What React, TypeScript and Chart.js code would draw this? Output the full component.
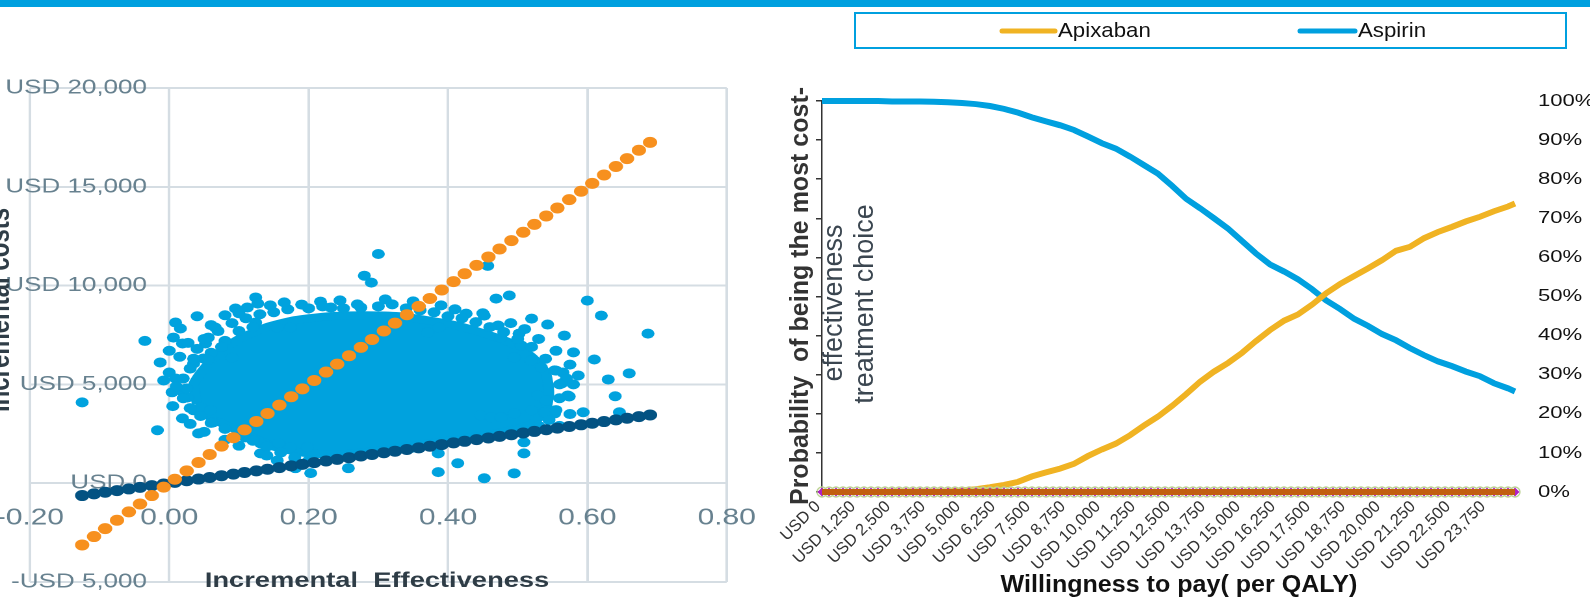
import React, { useEffect, useRef } from "react";
import { Chart, registerables } from "chart.js";
Chart.register(...registerables);

const FONT = '"Liberation Sans", Arial, sans-serif';

// ---------- Left panel: cost-effectiveness plane ----------
const CE_X_TICKS = [-0.2, 0, 0.2, 0.4, 0.6, 0.8];
const CE_Y_TICKS = [-5000, 0, 5000, 10000, 15000, 20000];

// effectiveness values of the two threshold lines
const THRESH_X = [-0.125, -0.108, -0.092, -0.075, -0.058, -0.042, -0.025, -0.008, 0.008, 0.025,
  0.042, 0.058, 0.075, 0.092, 0.108, 0.125, 0.141, 0.158, 0.175, 0.191,
  0.208, 0.225, 0.241, 0.258, 0.275, 0.291, 0.308, 0.324, 0.341, 0.358,
  0.374, 0.391, 0.408, 0.424, 0.441, 0.458, 0.474, 0.491, 0.508, 0.524,
  0.541, 0.557, 0.574, 0.591, 0.607, 0.624, 0.641, 0.657, 0.674, 0.690];
const THRESH_HIGH = [-3125, -2700, -2300, -1875, -1450, -1050, -625, -200, 200, 625,
  1050, 1450, 1875, 2300, 2700, 3125, 3525, 3950, 4375, 4775,
  5200, 5625, 6025, 6450, 6875, 7275, 7700, 8100, 8525, 8950,
  9350, 9775, 10200, 10600, 11025, 11450, 11850, 12275, 12700, 13100,
  13525, 13925, 14350, 14775, 15175, 15600, 16025, 16425, 16850, 17250];
const THRESH_LOW = [-625, -540, -460, -375, -290, -210, -125, -40, 40, 125,
  210, 290, 375, 460, 540, 625, 705, 790, 875, 955,
  1040, 1125, 1205, 1290, 1375, 1455, 1540, 1620, 1705, 1790,
  1870, 1955, 2040, 2120, 2205, 2290, 2370, 2455, 2540, 2620,
  2705, 2785, 2870, 2955, 3035, 3120, 3205, 3285, 3370, 3450];

// dense core of the simulation cloud (outline)
const CORE_X = [0.04, 0.035, 0.05, 0.075, 0.10, 0.14, 0.18, 0.23, 0.28, 0.33, 0.37, 0.41, 0.45, 0.49,
  0.52, 0.54, 0.545, 0.54, 0.52, 0.48, 0.42, 0.36, 0.30, 0.24, 0.19, 0.15, 0.12, 0.09, 0.06, 0.04];
const CORE_Y = [4000, 5000, 5800, 6700, 7300, 7900, 8250, 8450, 8500, 8450, 8250, 8000, 7600, 7100,
  6400, 5600, 4600, 3700, 3000, 2600, 2250, 1950, 1650, 1450, 1550, 1850, 2300, 2800, 3300, 4000];

// individual simulations (incremental effectiveness, incremental cost)
const SIM_X = [
  -0.125, -0.035, -0.017, -0.013, -0.008, 0.006, 0.009, 0.016, 0.019, 0.027,
  0.04, 0.056, 0.066, 0.0, 0.009, 0.004, 0.016, 0.019, 0.026, 0.042,
  0.035, 0.045, 0.059, 0.063, 0.035, 0.052, 0.049, 0.109, 0.131, 0.131,
  0.157, 0.181, 0.203, 0.174, 0.198, 0.124, 0.127, 0.095, 0.112, 0.124,
  0.155, 0.174, 0.19, 0.217, 0.232, 0.275, 0.30, 0.28, 0.29, 0.457,
  0.469, 0.488, 0.426, 0.452, 0.371, 0.387, 0.472, 0.476, 0.502, 0.505,
  0.495, 0.519, 0.52, 0.543, 0.534, 0.553, 0.563, 0.572, 0.529, 0.541,
  0.52, 0.538, 0.553, 0.509, 0.509, 0.495, 0.452, 0.414, 0.386, 0.386,
  0.447, 0.462, 0.476, 0.495, 0.257, 0.60, 0.62, 0.687, 0.66, 0.63,
  0.64, 0.61, 0.646, 0.594, 0.58, 0.567, 0.587, 0.574, 0.565, 0.57,
  0.54,
  0.05, 0.07, 0.09, 0.11, 0.13, 0.15, 0.17, 0.20, 0.22, 0.25,
  0.27, 0.30, 0.32, 0.34, 0.36, 0.38, 0.40, 0.42, 0.44, 0.46,
  0.48, 0.50, 0.52, 0.54, 0.555, 0.56, 0.56, 0.555, 0.545, 0.53,
  0.50, 0.47, 0.44, 0.41, 0.38, 0.35, 0.32, 0.29, 0.26, 0.23,
  0.20, 0.18, 0.16, 0.14, 0.12, 0.10, 0.08, 0.06, 0.045, 0.03,
  0.02, 0.025, 0.02, 0.03, 0.035, 0.04,
  0.06, 0.08, 0.10, 0.145, 0.165, 0.245, 0.31, 0.35, 0.39, 0.41,
  0.45, 0.49, 0.51, 0.53, 0.555, 0.575, 0.58, 0.575, 0.56, 0.01,
  0.015, 0.0, 0.005, 0.03, 0.05, 0.08, 0.10, 0.14, 0.155,
  0.06, 0.08, 0.10, 0.075, 0.055, 0.09, 0.12];
const SIM_Y = [
  4090, 7200, 2680, 6110, 5200, 7370, 8130, 7830, 7070, 7100,
  8450, 7370, 7880, 5600, 5300, 4600, 4700, 3280, 4340, 2520,
  3690, 3840, 3690, 3080, 6060, 7070, 6310, 2320, 2020, 1510,
  2020, 760, 510, 1820, 1820, 9400, 9090, 8840, 8890, 8130,
  7880, 7880, 9040, 9190, 8890, 8890, 11600, 10500, 10150, 11000,
  9340, 9500, 8580, 8480, 7630, 7880, 7980, 7370, 7570, 6970,
  6360, 6210, 8330, 8030, 5860, 5710, 5050, 4440, 4440, 4190,
  3690, 3590, 3530, 2070, 1510, 500, 250, 1010, 560, 1510,
  3430, 3330, 3330, 3530, 760, 9240, 8480, 7570, 5560, 5250,
  4400, 6260, 3590, 3590, 6620, 7470, 5450, 4390, 5600, 5300,
  3600,
  7300, 7700, 8100, 8350, 8550, 8650, 8800, 8850, 8950, 8850,
  9050, 8950, 9050, 8850, 8750, 8650, 8450, 8350, 8150, 7900,
  7650, 7300, 6900, 6300, 5700, 5000, 4300, 3700, 3200, 2900,
  2700, 2450, 2300, 2100, 1950, 1800, 1650, 1500, 1350, 1250,
  1150, 1300, 1550, 1850, 2150, 2450, 2750, 3050, 3400, 3800,
  4300, 4800, 5300, 5800, 6300, 6800,
  8000, 8500, 8600, 9000, 9150, 9250, 9300, 9200, 9000, 8800,
  8600, 8100, 7800, 7300, 6700, 6000, 5000, 3500, 2900, 4900,
  6400, 6700, 3900, 3000, 2600, 2200, 1900, 1400, 1150,
  6600, 7200, 7700, 6900, 6250, 6350, 7900];

// ---------- Right panel: acceptability curve ----------
const WTP = [0, 500, 1000, 1500, 2000, 2500, 3000, 3500, 4000, 4500,
  5000, 5500, 6000, 6500, 7000, 7500, 8000, 8500, 9000, 9500,
  10000, 10500, 11000, 11500, 12000, 12500, 13000, 13500, 14000, 14500,
  15000, 15500, 16000, 16500, 17000, 17500, 18000, 18500, 19000, 19500,
  20000, 20500, 21000, 21500, 22000, 22500, 23000, 23500, 24000, 24500, 24750];
const APIXABAN = [0, 0, 0, 0, 0, 0.1, 0.1, 0.1, 0.1, 0.2,
  0.4, 0.7, 1.2, 1.8, 2.6, 4.0, 5.0, 6.0, 7.2, 9.2,
  10.9, 12.4, 14.5, 17.0, 19.3, 22.0, 25.0, 28.2, 30.8, 33.0,
  35.6, 38.6, 41.4, 43.8, 45.4, 47.9, 50.8, 53.2, 55.2, 57.2,
  59.3, 61.7, 62.7, 64.9, 66.5, 67.8, 69.2, 70.4, 71.8, 73.0, 73.8];
const ASPIRIN = [100, 100, 100, 100, 100, 99.9, 99.9, 99.9, 99.8, 99.7,
  99.5, 99.2, 98.7, 98.0, 97.0, 95.8, 94.8, 93.8, 92.6, 90.9,
  89.2, 87.8, 85.8, 83.6, 81.4, 78.3, 75.0, 72.6, 70.0, 67.4,
  64.2, 61.0, 58.2, 56.4, 54.4, 51.9, 49.0, 46.8, 44.3, 42.5,
  40.4, 38.8, 36.8, 35.0, 33.4, 32.2, 30.8, 29.6, 27.8, 26.5, 25.7];
// finer grid used by the three flat (0 %) series along the bottom
const WTP_FINE = [0, 250, 500, 750, 1000, 1250, 1500, 1750, 2000, 2250,
  2500, 2750, 3000, 3250, 3500, 3750, 4000, 4250, 4500, 4750,
  5000, 5250, 5500, 5750, 6000, 6250, 6500, 6750, 7000, 7250,
  7500, 7750, 8000, 8250, 8500, 8750, 9000, 9250, 9500, 9750,
  10000, 10250, 10500, 10750, 11000, 11250, 11500, 11750, 12000, 12250,
  12500, 12750, 13000, 13250, 13500, 13750, 14000, 14250, 14500, 14750,
  15000, 15250, 15500, 15750, 16000, 16250, 16500, 16750, 17000, 17250,
  17500, 17750, 18000, 18250, 18500, 18750, 19000, 19250, 19500, 19750,
  20000, 20250, 20500, 20750, 21000, 21250, 21500, 21750, 22000, 22250,
  22500, 22750, 23000, 23250, 23500, 23750, 24000, 24250, 24500, 24750];
const OTHER_A = [0, 0, 0, 0, 0, 0, 0, 0, 0, 0, 0, 0, 0, 0, 0, 0, 0, 0, 0, 0,
  0, 0, 0, 0, 0, 0, 0, 0, 0, 0, 0, 0, 0, 0, 0, 0, 0, 0, 0, 0,
  0, 0, 0, 0, 0, 0, 0, 0, 0, 0, 0, 0, 0, 0, 0, 0, 0, 0, 0, 0,
  0, 0, 0, 0, 0, 0, 0, 0, 0, 0, 0, 0, 0, 0, 0, 0, 0, 0, 0, 0,
  0, 0, 0, 0, 0, 0, 0, 0, 0, 0, 0, 0, 0, 0, 0, 0, 0, 0, 0, 0];
const OTHER_B = [0, 0, 0, 0, 0, 0, 0, 0, 0, 0, 0, 0, 0, 0, 0, 0, 0, 0, 0, 0,
  0, 0, 0, 0, 0, 0, 0, 0, 0, 0, 0, 0, 0, 0, 0, 0, 0, 0, 0, 0,
  0, 0, 0, 0, 0, 0, 0, 0, 0, 0, 0, 0, 0, 0, 0, 0, 0, 0, 0, 0,
  0, 0, 0, 0, 0, 0, 0, 0, 0, 0, 0, 0, 0, 0, 0, 0, 0, 0, 0, 0,
  0, 0, 0, 0, 0, 0, 0, 0, 0, 0, 0, 0, 0, 0, 0, 0, 0, 0, 0, 0];
const OTHER_C = [0, 0, 0, 0, 0, 0, 0, 0, 0, 0, 0, 0, 0, 0, 0, 0, 0, 0, 0, 0,
  0, 0, 0, 0, 0, 0, 0, 0, 0, 0, 0, 0, 0, 0, 0, 0, 0, 0, 0, 0,
  0, 0, 0, 0, 0, 0, 0, 0, 0, 0, 0, 0, 0, 0, 0, 0, 0, 0, 0, 0,
  0, 0, 0, 0, 0, 0, 0, 0, 0, 0, 0, 0, 0, 0, 0, 0, 0, 0, 0, 0,
  0, 0, 0, 0, 0, 0, 0, 0, 0, 0, 0, 0, 0, 0, 0, 0, 0, 0, 0, 0];
const WTP_LABELS = [0, 1250, 2500, 3750, 5000, 6250, 7500, 8750, 10000, 11250,
  12500, 13750, 15000, 16250, 17500, 18750, 20000, 21250, 22500, 23750];
const PCT_TICKS = [0, 10, 20, 30, 40, 50, 60, 70, 80, 90, 100];

type TextItem = {
  text: string; x: number; y: number; font: string; color: string;
  rot?: number; sx?: number; align?: CanvasTextAlign; baseline?: CanvasTextBaseline;
};
function drawTexts(ctx: CanvasRenderingContext2D, items: TextItem[]) {
  for (const t of items) {
    ctx.save();
    ctx.translate(t.x, t.y);
    if (t.sx) ctx.scale(t.sx, 1);
    if (t.rot) ctx.rotate(t.rot);
    ctx.font = t.font;
    ctx.fillStyle = t.color;
    ctx.textAlign = t.align || "center";
    ctx.textBaseline = t.baseline || "alphabetic";
    ctx.fillText(t.text, 0, 0);
    ctx.restore();
  }
}

const pairs = (xs: number[], ys: number[]) => xs.map((x, i) => ({ x, y: ys[i] }));
const usd = (v: number) => (v < 0 ? "-USD " : "USD ") + Math.abs(v).toLocaleString("en-US");

const CLOUD = "#00a2de";
const GRID = "#d5dde3";
const TICK_COL = "#67818f";

function leftConfig(): any {
  return {
    type: "scatter",
    data: {
      datasets: [
        { label: "WTP high", data: pairs(THRESH_X, THRESH_HIGH), backgroundColor: "#f7901e", borderWidth: 0, pointRadius: 5.5, order: 0 },
        { label: "WTP low", data: pairs(THRESH_X, THRESH_LOW), backgroundColor: "#035282", borderWidth: 0, pointRadius: 5.5, order: 1 },
        { label: "Simulations", data: pairs(SIM_X, SIM_Y), backgroundColor: CLOUD, borderWidth: 0, pointRadius: 5, order: 2 },
        { type: "line", label: "Simulation core", data: pairs(CORE_X, CORE_Y), backgroundColor: CLOUD, borderColor: CLOUD,
          borderWidth: 8, borderJoinStyle: "round", pointRadius: 0, fill: "shape", tension: 0.2, order: 3 },
      ],
    },
    options: {
      animation: false, responsive: false, devicePixelRatio: 2, events: [],
      layout: { padding: { left: 23, right: 31, top: 88, bottom: 20 } },
      plugins: { legend: { display: false }, tooltip: { enabled: false } },
      scales: {
        x: {
          type: "linear", min: -0.2, max: 0.8, position: { y: 0 },
          afterBuildTicks: (s: any) => { s.ticks = CE_X_TICKS.map((v) => ({ value: v })); },
          afterFit: (s: any) => { s.paddingLeft = 0; s.paddingRight = 0; },
          ticks: { callback: (v: any) => Number(v).toFixed(2), font: { family: FONT, size: 23 }, color: TICK_COL, padding: 21, maxRotation: 0, autoSkip: false },
          grid: { color: GRID, lineWidth: 2, drawTicks: false },
          border: { color: GRID, width: 2 },
        },
        y: {
          type: "linear", min: -5000, max: 20000, position: { x: -0.032 },
          afterBuildTicks: (s: any) => { s.ticks = CE_Y_TICKS.map((v) => ({ value: v })); },
          afterFit: (s: any) => { s.paddingTop = 0; s.paddingBottom = 0; },
          ticks: { callback: (v: any) => usd(Number(v)), font: { family: FONT, size: 20 }, color: TICK_COL, autoSkip: false },
          grid: { color: GRID, lineWidth: 2, drawTicks: false },
          border: { display: false },
        },
      },
    },
    plugins: [{
      id: "leftTexts",
      afterDraw(chart: any) {
        drawTexts(chart.ctx, [
          { text: "Incremental costs", x: 7, y: 310, font: `bold 24px ${FONT}`, color: "#2f3d47", rot: -Math.PI / 2 },
          { text: "Incremental  Effectiveness", x: 290, y: 587, font: `bold 21px ${FONT}`, color: "#2e3c46" },
        ]);
      },
    }],
  };
}

function rightConfig(): any {
  const fine = (ys: number[]) => pairs(WTP_FINE, ys);
  return {
    type: "line",
    data: {
      datasets: [
        { label: "Apixaban", data: pairs(WTP, APIXABAN), borderColor: "#f0b323", backgroundColor: "#f0b323", borderWidth: 6, pointRadius: 0, order: 5, clip: false },
        { label: "Aspirin", data: pairs(WTP, ASPIRIN), borderColor: "#00a0df", backgroundColor: "#00a0df", borderWidth: 6, pointRadius: 0, order: 5, clip: false },
        { label: "Other C", data: fine(OTHER_C), borderColor: "rgba(0,0,0,0)", borderWidth: 0, pointRadius: 5, pointStyle: "circle",
          pointBackgroundColor: "rgba(0,0,0,0)", pointBorderColor: "#bcd292", pointBorderWidth: 1.3, order: 3, clip: false },
        { label: "Other B", data: fine(OTHER_B), borderColor: "#b01fc4", borderWidth: 1, pointRadius: 4.5, pointStyle: "rectRot",
          pointBackgroundColor: "#b01fc4", pointBorderColor: "#b01fc4", pointBorderWidth: 0, order: 2, clip: false },
        { label: "Other A", data: fine(OTHER_A), borderColor: "#c25f10", borderWidth: 6, pointRadius: 0, order: 1, clip: false },
      ],
    },
    options: {
      animation: false, responsive: false, devicePixelRatio: 1, events: [],
      layout: { padding: { left: 0, right: 0, top: 101, bottom: 0 } },
      plugins: { legend: { display: false }, tooltip: { enabled: false } },
      scales: {
        x: {
          type: "linear", min: 0, max: 24750, position: "bottom",
          afterBuildTicks: (s: any) => { s.ticks = WTP_LABELS.map((v) => ({ value: v })); },
          afterFit: (s: any) => { s.height = 110; s.paddingLeft = 0; s.paddingRight = 0; },
          ticks: { callback: (v: any) => usd(Number(v)), font: { family: FONT, size: 16.5 }, color: "#333", minRotation: 45, maxRotation: 45,
            autoSkip: false, padding: -3, labelOffset: -4 },
          grid: { display: false },
          border: { display: true, color: "#333", width: 1 },
        },
        y: {
          type: "linear", min: 0, max: 100, position: "left",
          afterFit: (s: any) => { s.width = 55; s.paddingTop = 0; s.paddingBottom = 0; },
          ticks: { display: false, stepSize: 10 },
          grid: { drawOnChartArea: false, drawTicks: true, tickLength: 6, color: "#333", lineWidth: 1.5 },
          border: { display: true, color: "#333", width: 1.5 },
        },
        y2: {
          type: "linear", min: 0, max: 100, position: "right",
          afterFit: (s: any) => { s.width = 75; s.paddingTop = 0; s.paddingBottom = 0; },
          ticks: { display: false, stepSize: 10 },
          grid: { display: false },
          border: { display: false },
        },
      },
    },
    plugins: [{
      id: "rightTexts",
      afterDraw(chart: any) {
        const ctx = chart.ctx as CanvasRenderingContext2D;
        const ys = chart.scales.y;
        const items: TextItem[] = PCT_TICKS.map((v) => ({
          text: `${v}%`, x: 771, y: ys.getPixelForValue(v), font: `17px ${FONT}`, color: "#111", sx: 1.3, align: "left", baseline: "middle",
        }));
        items.push(
          { text: "Probability  of being the most cost-", x: 41, y: 296, font: `bold 25px ${FONT}`, color: "#333", rot: -Math.PI / 2 },
          { text: "effectiveness", x: 75, y: 303, font: `27px ${FONT}`, color: "#3b4650", rot: -Math.PI / 2 },
          { text: "treatment choice", x: 106, y: 304, font: `27px ${FONT}`, color: "#3b4650", rot: -Math.PI / 2 },
          { text: "Willingness to pay( per QALY)", x: 412, y: 592, font: `bold 23px ${FONT}`, color: "#111", sx: 1.09 },
        );
        drawTexts(ctx, items);
        // legend
        ctx.save();
        ctx.strokeStyle = "#00a0df";
        ctx.lineWidth = 2;
        ctx.strokeRect(88, 13, 711, 35);
        const ds = chart.data.datasets;
        const entries = [{ i: 0, x0: 235, x1: 288 }, { i: 1, x0: 533, x1: 588 }];
        for (const e of entries) {
          ctx.strokeStyle = ds[e.i].borderColor;
          ctx.lineWidth = 5;
          ctx.lineCap = "round";
          ctx.beginPath();
          ctx.moveTo(e.x0, 31);
          ctx.lineTo(e.x1, 31);
          ctx.stroke();
        }
        ctx.restore();
        drawTexts(ctx, entries.map((e) => ({
          text: ds[e.i].label, x: e.x1 + 3, y: 31, font: `21px ${FONT}`, color: "#111", align: "left" as CanvasTextAlign, baseline: "middle" as CanvasTextBaseline, sx: 1.06,
        })));
      },
    }],
  };
}

export default function App() {
  const leftRef = useRef<HTMLCanvasElement>(null);
  const rightRef = useRef<HTMLCanvasElement>(null);
  useEffect(() => {
    const c1 = new Chart(leftRef.current!, leftConfig());
    const c2 = new Chart(rightRef.current!, rightConfig());
    return () => { c1.destroy(); c2.destroy(); };
  }, []);
  return (
    <div style={{ position: "fixed", left: 0, top: 0, width: 1590, height: 602, overflow: "hidden", background: "#fff" }}>
      <div style={{ position: "absolute", left: 0, top: 0, width: 590, height: 602, transform: "scaleX(1.3)", transformOrigin: "0 0" }}>
        <canvas ref={leftRef} width={590} height={602} />
      </div>
      <canvas ref={rightRef} width={823} height={602} style={{ position: "absolute", left: 767, top: 0 }} />
      <div style={{ position: "absolute", left: 0, top: 0, width: 1590, height: 7, background: "#00a0df" }} />
    </div>
  );
}
